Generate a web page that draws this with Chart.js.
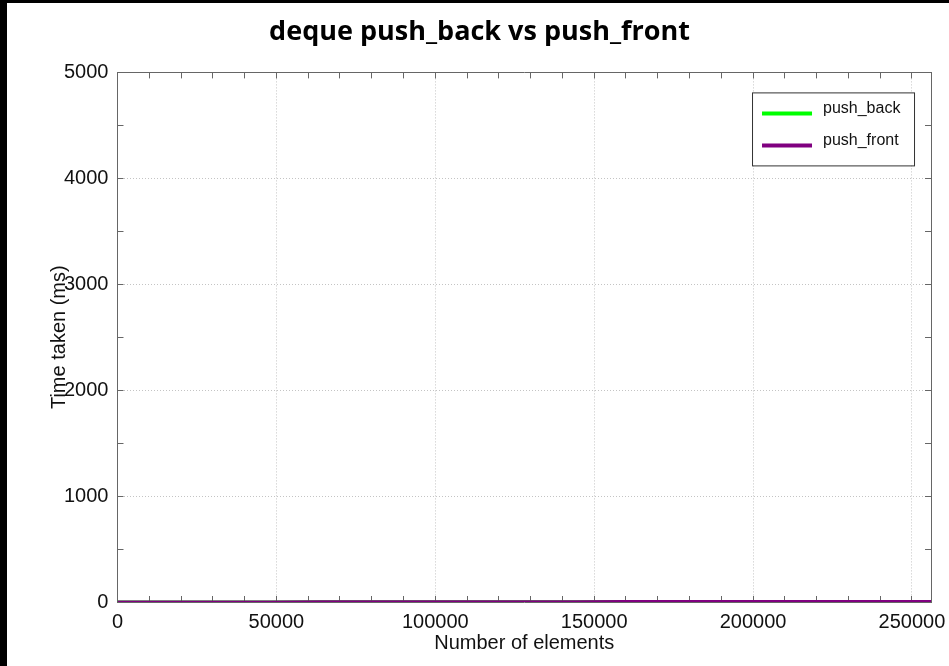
<!DOCTYPE html>
<html>
<head>
<meta charset="utf-8">
<script src="https://cdn.jsdelivr.net/npm/chart.js@4"></script>
<style>
  html, body { margin: 0; padding: 0; background: #000; overflow: hidden; }
  #wrap { position: absolute; left: 7px; top: 3px; width: 953px; height: 663px; background: #fff; }
</style>
</head>
<body>
<div id="wrap"><canvas id="chart" width="953" height="663" style="width:953px;height:663px"></canvas></div>
<script>
// number of elements pushed
const sizes = [0, 16000, 32000, 48000, 64000, 80000, 96000, 112000, 128000,
  144000, 160000, 176000, 192000, 208000, 224000, 240000, 256000]
// time taken (ms)
const pushBack = [0, 0.4, 0.7, 1.1, 1.4, 1.8, 2.1, 2.5, 2.9, 3.2, 3.6, 3.9, 4.3, 4.7, 5.0, 5.4, 5.8]
const pushFront = [0, 0.4, 0.8, 1.1, 1.5, 1.9, 2.2, 2.6, 3.0, 3.3, 3.7, 4.1, 4.4, 4.8, 5.2, 5.6, 5.9]

const seriesNames = ['push_back', 'push_front']
const seriesColors = ['#00ff00', '#800080']

// axis ticks (labels only on the major ones)
const xMax = 256000
const xTicks = [0, 10000, 20000, 30000, 40000, 50000, 60000, 70000, 80000, 90000,
  100000, 110000, 120000, 130000, 140000, 150000, 160000, 170000, 180000, 190000,
  200000, 210000, 220000, 230000, 240000, 250000]
const xLabels = [0, 50000, 100000, 150000, 200000, 250000]
const yMax = 5000
const yTicks = [0, 500, 1000, 1500, 2000, 2500, 3000, 3500, 4000, 4500, 5000]
const yLabels = [0, 1000, 2000, 3000, 4000, 5000]

const tickFont = { family: 'Liberation Sans', size: 20 }
const axisGray = '#666'
const gridGray = '#c4c4c4'
const clear = 'rgba(0,0,0,0)'

// legend box drawn inside the plot, top right
const boxLegend = {
  id: 'boxLegend',
  afterDatasetsDraw(chart) {
    const { ctx, chartArea } = chart
    const w = 162
    const h = 73
    const left = chartArea.right - 17 - w
    const top = chartArea.top + 20
    ctx.save()
    ctx.fillStyle = '#fff'
    ctx.fillRect(left, top, w, h)
    ctx.strokeStyle = '#333'
    ctx.lineWidth = 1
    ctx.strokeRect(left + 0.5, top + 0.5, w, h)
    ctx.font = '16px "Liberation Sans"'
    ctx.textBaseline = 'middle'
    ctx.fillStyle = '#111'
    chart.data.datasets.forEach((ds, i) => {
      const y = top + 21 + i * 32
      ctx.strokeStyle = ds.borderColor
      ctx.lineWidth = 4
      ctx.beginPath()
      ctx.moveTo(left + 10, y)
      ctx.lineTo(left + 60, y)
      ctx.stroke()
      ctx.fillText(ds.label, left + 71, y - 5)
    })
    ctx.restore()
  },
}

// inward ticks: an empty 6px title keeps the mirror axes at zero size
const mirrorTitle = { display: true, text: '', font: { size: 6, lineHeight: 1 }, padding: 0 }

const canvas = document.getElementById('chart')
const chart = new Chart(canvas, {
  type: 'line',
  data: {
    datasets: [
      {
        label: seriesNames[0],
        data: sizes.map((x, i) => ({ x: x, y: pushBack[i] })),
        borderColor: seriesColors[0],
        backgroundColor: seriesColors[0],
        borderWidth: 3,
        pointRadius: 0,
        order: 1,
      },
      {
        label: seriesNames[1],
        data: sizes.map((x, i) => ({ x: x, y: pushFront[i] })),
        borderColor: seriesColors[1],
        backgroundColor: seriesColors[1],
        borderWidth: 3,
        pointRadius: 0,
        order: 0,
      },
    ],
  },
  options: {
    responsive: false,
    animation: false,
    layout: {
      padding: { left: 0, right: 8, top: 0, bottom: 0 },
    },
    scales: {
      x: {
        type: 'linear',
        position: 'bottom',
        min: 0,
        max: xMax,
        afterBuildTicks: (scale) => {
          scale.ticks = xTicks.map((v) => ({ value: v }))
        },
        border: { color: axisGray, width: 1, dash: [1, 2] },
        grid: {
          color: (c) => (c.tick && xLabels.includes(c.tick.value) ? gridGray : clear),
          tickColor: axisGray,
          tickLength: -6,
        },
        ticks: {
          autoSkip: false,
          maxRotation: 0,
          padding: 14,
          color: '#111',
          font: tickFont,
          callback: (v) => (xLabels.includes(v) ? String(v) : ''),
        },
        title: {
          display: true,
          text: 'Number of elements',
          color: '#111',
          font: tickFont,
          padding: { top: -17, bottom: 11 },
        },
      },
      x2: {
        type: 'linear',
        position: 'top',
        min: 0,
        max: xMax,
        afterBuildTicks: (scale) => {
          scale.ticks = xTicks.map((v) => ({ value: v }))
        },
        border: { color: axisGray, width: 1 },
        grid: { drawOnChartArea: false, tickColor: axisGray, tickLength: -6 },
        ticks: { display: false },
        title: mirrorTitle,
      },
      y: {
        type: 'linear',
        position: 'left',
        min: 0,
        max: yMax,
        afterBuildTicks: (scale) => {
          scale.ticks = yTicks.map((v) => ({ value: v }))
        },
        border: { color: axisGray, width: 1, dash: [1, 2] },
        grid: {
          color: (c) => (c.tick && yLabels.includes(c.tick.value) ? gridGray : clear),
          tickColor: axisGray,
          tickLength: -6,
        },
        ticks: {
          autoSkip: false,
          padding: 15,
          color: '#111',
          font: tickFont,
          callback: (v) => (yLabels.includes(v) ? String(v) : ''),
        },
        title: {
          display: true,
          text: 'Time taken (ms)',
          color: '#111',
          font: tickFont,
          padding: { top: 40, bottom: -22 },
        },
      },
      y2: {
        type: 'linear',
        position: 'right',
        min: 0,
        max: yMax,
        afterBuildTicks: (scale) => {
          scale.ticks = yTicks.map((v) => ({ value: v }))
        },
        border: { color: axisGray, width: 1 },
        grid: { drawOnChartArea: false, tickColor: axisGray, tickLength: -6 },
        ticks: { display: false },
        title: mirrorTitle,
      },
    },
    plugins: {
      legend: { display: false },
      tooltip: { enabled: false },
      title: {
        display: true,
        text: 'deque push_back vs push_front',
        color: '#000',
        font: { family: 'Open Sans', size: 27, weight: 'bold' },
        padding: { top: 13, bottom: 24 },
      },
    },
  },
  plugins: [boxLegend],
})
</script>
</body>
</html>
